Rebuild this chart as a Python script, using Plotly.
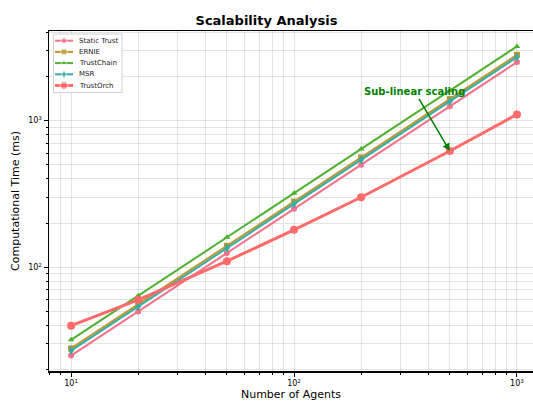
import plotly.graph_objects as go
import numpy as np

agents = [10, 20, 50, 100, 200, 500, 1000]
static_trust = [25, 50, 125, 250, 500, 1250, 2500]
ernie = [28, 56, 140, 280, 560, 1400, 2800]
trustchain = [32, 64, 160, 320, 640, 1600, 3200]
msr = [27, 54, 135, 270, 540, 1350, 2700]
trustorch = [40, 60, 110, 180, 300, 620, 1100]

series = [
    ("Static Trust", static_trust, "#f77189", "circle", 2, 6),
    ("ERNIE", ernie, "#bb9832", "square", 2, 6),
    ("TrustChain", trustchain, "#50b131", "triangle-up", 2, 6),
    ("MSR", msr, "#36ada4", "diamond-tall", 2, 7),
    ("TrustOrch", trustorch, "#ff6b6b", "circle", 3, 8),
]

W, H = 533, 401
ML, MR, MT, MB = 49, 0, 31, 30

fig = go.Figure()
for name, vals, color, sym, lw, ms in series:
    fig.add_trace(go.Scatter(
        x=agents, y=vals, name=name, mode="lines+markers",
        line=dict(color=color, width=lw),
        marker=dict(symbol=sym, size=ms, color=color),
        showlegend=False,
    ))

# compact legend box drawn on an overlay axis measured in pixels
bx0, bx1, by0, by1 = 53.5, 122, 34, 92.5
fig.add_trace(go.Scatter(
    x=[bx0, bx1, bx1, bx0, bx0], y=[by0, by0, by1, by1, by0],
    mode="lines", fill="toself", fillcolor="rgba(255,255,255,0.9)",
    line=dict(color="#d0d0d0", width=1),
    xaxis="x2", yaxis="y2", showlegend=False, hoverinfo="skip",
))
leg_y0 = 40.7
leg_dy = 11.2
annotations = []
for i, (name, vals, color, sym, lw, ms) in enumerate(series):
    yy = leg_y0 + i * leg_dy
    fig.add_trace(go.Scatter(
        x=[55, 64, 73], y=[yy, yy, yy], mode="lines+markers",
        line=dict(color=color, width=lw),
        marker=dict(symbol=sym, size=[0, ms, 0], color=color),
        xaxis="x2", yaxis="y2", showlegend=False, hoverinfo="skip",
    ))
    annotations.append(dict(
        x=77, y=yy, xref="x2", yref="y2", text=name, showarrow=False,
        xanchor="left", yanchor="middle", font=dict(size=7, color="#222222"),
    ))

font = "DejaVu Sans, Arial, sans-serif"
minor_x = [m * 10 ** k for k in range(0, 4) for m in range(2, 10)]
minor_y = [m * 10 ** k for k in range(1, 4) for m in range(2, 10)]
gridc = "rgba(176,176,176,0.35)"

annotations.append(dict(
    x=np.log10(agents[5]), y=np.log10(trustorch[5]), xref="x", yref="y",
    text="<b>Sub-linear scaling</b>", font=dict(size=10, color="green"),
    showarrow=True, arrowhead=2, arrowsize=1, arrowwidth=1.5, arrowcolor="green",
    ax=-35, ay=-59,
))

fig.update_layout(
    width=W, height=H,
    margin=dict(l=ML, r=MR, t=MT, b=MB),
    paper_bgcolor="white", plot_bgcolor="white",
    font=dict(family=font, color="black"),
    title=dict(text="<b>Scalability Analysis</b>", x=0.5, xanchor="center",
               y=1 - 20 / H, yanchor="middle", font=dict(size=13)),
    showlegend=False,
    xaxis=dict(
        type="log", range=[np.log10(7.96), np.log10(1180)], automargin=False,
        tickvals=[10, 100, 1000],
        ticktext=["10<sup>1</sup>", "10<sup>2</sup>", "10<sup>3</sup>"],
        tickfont=dict(size=8), ticks="outside", ticklen=4, tickcolor="black",
        showgrid=True, gridcolor=gridc, gridwidth=1,
        minor=dict(tickmode="array", tickvals=minor_x, ticks="outside", ticklen=2,
                   tickcolor="black", showgrid=True, gridcolor=gridc, gridwidth=1),
        showline=True, linecolor="black", linewidth=1.5, mirror=True,
        zeroline=False,
        title=dict(text="Number of Agents", font=dict(size=11), standoff=4),
    ),
    yaxis=dict(
        type="log", range=[1.293, 3.61], automargin=False,
        tickvals=[100, 1000],
        ticktext=["10<sup>2</sup>", "10<sup>3</sup>"],
        tickfont=dict(size=8), ticks="outside", ticklen=4, tickcolor="black",
        showgrid=True, gridcolor=gridc, gridwidth=1,
        minor=dict(tickmode="array", tickvals=minor_y, ticks="outside", ticklen=2,
                   tickcolor="black", showgrid=True, gridcolor=gridc, gridwidth=1),
        showline=True, linecolor="black", linewidth=1.5,
        zeroline=False,
        title=dict(text="Computational Time (ms)", font=dict(size=11), standoff=6),
    ),
    xaxis2=dict(overlaying="x", range=[ML, W - MR], visible=False, fixedrange=True),
    yaxis2=dict(overlaying="y", range=[H - MB, MT], visible=False, fixedrange=True),
    annotations=annotations,
)

fig.write_html("out.html", config={"displayModeBar": False, "staticPlot": True},
               post_script="document.body.style.margin='0';document.body.style.overflow='hidden';")
